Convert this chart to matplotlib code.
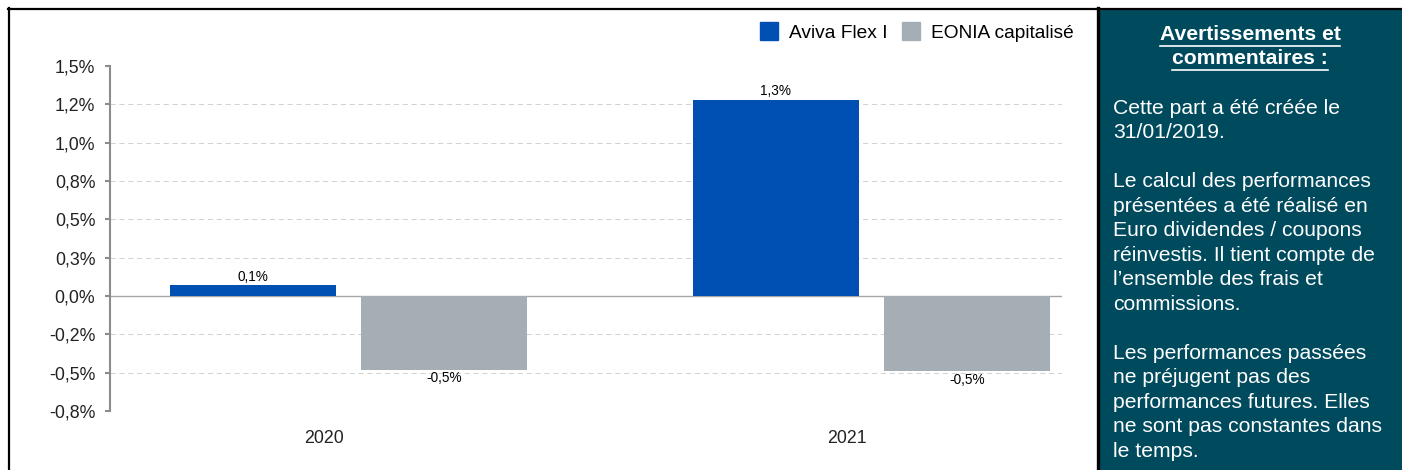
import matplotlib
matplotlib.use('Agg')
import matplotlib.pyplot as plt
from matplotlib.patches import Rectangle, Patch
from matplotlib.lines import Line2D

plt.rcParams['font.family'] = ['Liberation Sans', 'DejaVu Sans']

years = ['2020', '2021']
aviva = [0.07, 1.28]
eonia = [-0.48, -0.49]
series_names = ['Aviva Flex I', 'EONIA capitalisé']
yticks = [-0.75, -0.5, -0.25, 0.0, 0.25, 0.5, 0.75, 1.0, 1.25, 1.5]
ytick_labels = ['-0,8%', '-0,5%', '-0,2%', '0,0%', '0,3%', '0,5%', '0,8%', '1,0%', '1,2%', '1,5%']
grid_values = [-0.5, -0.25, 0.25, 0.5, 0.75, 1.0, 1.25]

title_lines = ['Avertissements et', 'commentaires :']
body = ("Cette part a été créée le\n31/01/2019.\n\n"
        "Le calcul des performances\nprésentées a été réalisé en\n"
        "Euro dividendes / coupons\nréinvestis. Il tient compte de\n"
        "l\u2019ensemble des frais et\ncommissions.\n\n"
        "Les performances passées\nne préjugent pas des\n"
        "performances futures. Elles\nne sont pas constantes dans\nle temps.")

BLUE = '#0050B4'
GREY = '#A5AEB4'
TEAL = '#004A5E'

W, H = 1402, 470
fig = plt.figure(figsize=(W / 100, H / 100), dpi=100)

def fx(px):
    return px / W

def fy(py):
    return 1 - py / H

ax = fig.add_axes([fx(110), fy(411), fx(1062) - fx(110), fy(66) - fy(411)])

x = list(range(len(years)))
w = 0.317
b1 = ax.bar([i - 0.136 for i in x], aviva, w, color=BLUE, zorder=3, label=series_names[0])
b2 = ax.bar([i + 0.229 for i in x], eonia, w, color=GREY, zorder=3, label=series_names[1])

fmt = lambda v: ('%.1f%%' % v).replace('.', ',')
ax.bar_label(b1, fmt=fmt, padding=1, fontsize=9.8, color='black')
ax.bar_label(b2, fmt=fmt, padding=1, fontsize=9.8, color='black')

for g in grid_values:
    ax.axhline(g, color='#d3d3d3', lw=0.75, ls=(0, (5, 3.5)), zorder=1)
ax.axhline(0, color='#a6a6a6', lw=1.0, zorder=2)

ax.set_xlim(-0.409, 1.411)
ax.set_ylim(-0.75, 1.5)
ax.set_yticks(yticks)
ax.set_yticklabels(ytick_labels)
ax.set_xticks(x)
ax.set_xticklabels(years)

for s in ['top', 'right', 'bottom']:
    ax.spines[s].set_visible(False)
ax.spines['left'].set_color('#8c8c8c')
ax.spines['left'].set_linewidth(1.5)
ax.tick_params(axis='y', length=3.6, width=1.5, color='#8c8c8c', pad=7,
               labelsize=12.8, labelcolor='#222222')
ax.tick_params(axis='x', length=0, pad=14, labelsize=12.8, labelcolor='#222222')

handles = [Patch(color=BLUE), Patch(color=GREY)]
fig.legend(handles, series_names, loc='center right',
           bbox_to_anchor=(fx(1074), fy(32)), ncol=2, frameon=False,
           fontsize=13.8, handlelength=0.95, handleheight=1.0,
           handletextpad=0.58, columnspacing=0.73, borderpad=0,
           borderaxespad=0)

# right panel and frame
fig.patches.append(Rectangle((fx(1099), 0), 1 - fx(1099), fy(10), transform=fig.transFigure,
                             facecolor=TEAL, edgecolor='none', zorder=0))
fig.add_artist(Line2D([fx(8), 1], [fy(9), fy(9)], color='black', lw=1.6))
fig.add_artist(Line2D([fx(9), fx(9)], [0, fy(8)], color='black', lw=1.6))
fig.add_artist(Line2D([fx(1097.5), fx(1097.5)], [0, fy(8)], color='black', lw=2.4))

renderer = fig.canvas.get_renderer()
for i, line in enumerate(title_lines):
    t = fig.text(fx(1250), fy(35 + 24 * i), line, ha='center', va='center',
                 fontsize=15.2, fontweight='bold', color='white')
    bb = t.get_window_extent(renderer)
    uy = fy(46 + 24 * i)
    fig.add_artist(Line2D([bb.x0 / W, bb.x1 / W], [uy, uy], color='white', lw=1.2))

fig.text(fx(1113), fy(99), body, ha='left', va='top', fontsize=15.2,
         color='white', linespacing=1.365)

fig.savefig('out.png', dpi=100)
